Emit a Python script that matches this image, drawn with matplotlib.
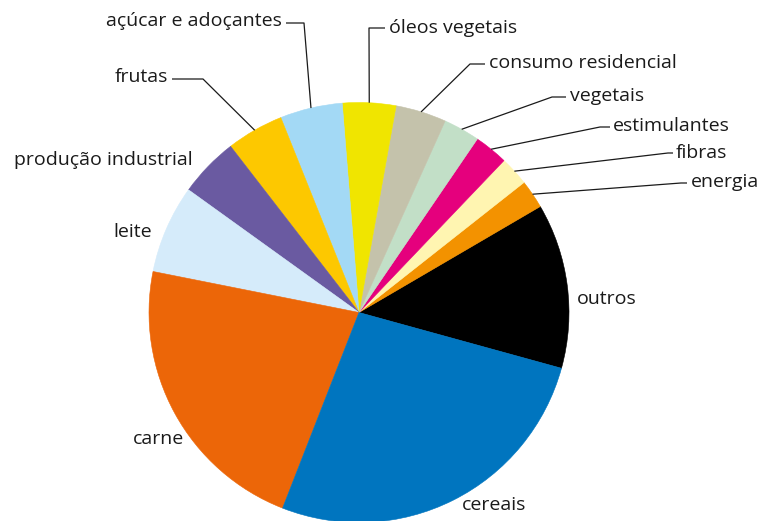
#!/usr/bin/env python3
"""Pie chart: composition by category (pt-BR labels), saved to out.png."""
import numpy as np
import matplotlib
matplotlib.use('Agg')
import matplotlib.pyplot as plt

plt.rcParams['font.family'] = ['Open Sans', 'DejaVu Sans']

# shares in %, in drawing order (screen counter-clockwise from the outros/cereais edge)
labels = ['outros', 'energia', 'fibras', 'estimulantes', 'vegetais',
          'consumo residencial', 'óleos vegetais', 'açúcar e adoçantes',
          'frutas', 'produção industrial', 'leite', 'carne', 'cereais']
values = [12.7, 2.2, 2.25, 2.6, 2.8, 3.9, 4.1, 4.8, 4.4, 4.6, 6.8, 22.2, 26.65]
colors = ['#000000', '#f39200', '#fff5b1', '#e5007d', '#c2dfc7',
          '#c4c2ab', '#f0e500', '#a3d9f5', '#fdc800', '#6a5aa1',
          '#d5ebfa', '#ec6608', '#0075bf']

W, H = 762, 521
cx, cy, R = 359, 312.5, 210

# label placement in pixel coords (y down): text x, text y, alignment, leader elbow points
label_pos = {
    'outros': (577, 299, 'left', None),
    'cereais': (462, 505, 'left', None),
    'carne': (133, 439, 'left', None),
    'leite': (113, 232, 'left', None),
    'produção industrial': (193, 160, 'right', None),
    'frutas': (168, 77, 'right', [(203, 79), (172, 79)]),
    'açúcar e adoçantes': (282, 21, 'right', [(304, 23), (286, 23)]),
    'óleos vegetais': (389, 28, 'left', [(369, 28), (385, 28)]),
    'consumo residencial': (489, 63, 'left', [(470, 64), (485, 64)]),
    'vegetais': (570, 96, 'left', [(552, 97), (566, 97)]),
    'estimulantes': (613, 126, 'left', [(600, 127), (610, 127)]),
    'fibras': (676, 153, 'left', [(668, 153), (673, 153)]),
    'energia': (691, 182, 'left', [(681, 183), (687, 183)]),
}

fig = plt.figure(figsize=(W / 100, H / 100), dpi=100)
ax = fig.add_axes([0, 0, 1, 1])

# y axis is inverted, so clockwise in data = counter-clockwise on screen
wedges, _ = ax.pie(values, colors=colors, startangle=15.4, counterclock=False,
                   center=(cx, cy), radius=R, wedgeprops=dict(linewidth=0.4))
ax.set_xlim(0, W)
ax.set_ylim(H, 0)
ax.set_aspect('equal')
ax.set_axis_off()

for w, lab in zip(wedges, labels):
    w.set_edgecolor(w.get_facecolor())
    tx, ty, ha, elbow = label_pos[lab]
    ax.text(tx, ty, lab, ha=ha, va='center', fontsize=14, color='#1a1a1a')
    if elbow:
        mid = np.deg2rad((w.theta1 + w.theta2) / 2)
        x0 = cx + R * np.cos(mid)
        y0 = cy + R * np.sin(mid)
        xs = [x0] + [p[0] for p in elbow]
        ys = [y0] + [p[1] for p in elbow]
        ax.plot(xs, ys, color='#1a1a1a', linewidth=0.9, solid_capstyle='butt')

fig.savefig('out.png', dpi=100)
print('Saved out.png')
